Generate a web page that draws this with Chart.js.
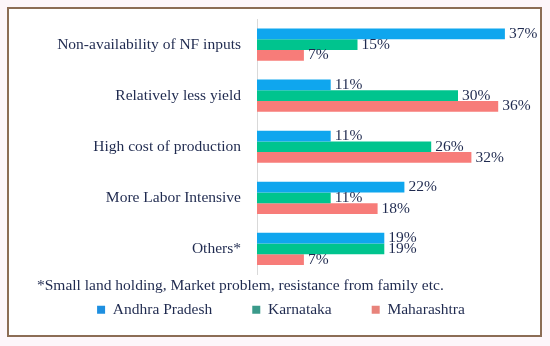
<!DOCTYPE html>
<html lang="en">
<head>
    <meta charset="UTF-8">
    <title>Reasons for not adopting natural farming</title>
    <script src="https://cdn.jsdelivr.net/npm/chart.js"></script>
    <style>
    body, html {
        margin: 0;
        padding: 0;
        width: 550px;
        height: 346px;
        background-color: #fdf6fa;
        overflow: hidden;
    }
    #frame {
        position: absolute;
        left: 7px;
        top: 7px;
        width: 531px;
        height: 326px;
        border: 2px solid #8c6d55;
        background: white;
    }
    #chart-container {
        position: absolute;
        left: 0;
        top: 0;
        width: 550px;
        height: 346px;
    }
    </style>
</head>
<body>
<div id="frame"></div>
<div id="chart-container">
    <canvas id="reasons"></canvas>
</div>
<script>
    const reasons = ['Non-availability of NF inputs', 'Relatively less yield', 'High cost of production', 'More Labor Intensive', 'Others*'];
    const states = ['Andhra Pradesh', 'Karnataka', 'Maharashtra'];
    const andhraPradesh = [37, 11, 11, 22, 19];
    const karnataka = [15, 30, 26, 11, 19];
    const maharashtra = [7, 36, 32, 18, 7];
    const colors = ['#0fa6ee', '#00c48e', '#f77c79'];
    const legendColors = ['#1e8fe0', '#3a9a8a', '#e8837b'];
    const footnote = '*Small land holding, Market problem, resistance from family etc.';

    const textColor = '#1f2a4f';
    const serif = "'Liberation Serif', 'DejaVu Serif', serif";
    const fontSize = 15.5;

    // writes the percentage right after each bar
    const valueLabels = {
        id: 'valueLabels',
        afterDatasetsDraw(chart) {
            const ctx = chart.ctx;
            ctx.save();
            ctx.font = fontSize + 'px ' + serif;
            ctx.fillStyle = textColor;
            ctx.textBaseline = 'middle';
            ctx.textAlign = 'left';
            chart.data.datasets.forEach((ds, i) => {
                const meta = chart.getDatasetMeta(i);
                meta.data.forEach((bar, j) => {
                    ctx.fillText(ds.data[j] + '%', bar.x + 4, bar.y);
                });
            });
            ctx.restore();
        }
    };

    const ctx = document.getElementById('reasons').getContext('2d');
    new Chart(ctx, {
        type: 'bar',
        data: {
            labels: reasons,
            datasets: [
                { label: states[0], data: andhraPradesh, backgroundColor: colors[0] },
                { label: states[1], data: karnataka, backgroundColor: colors[1] },
                { label: states[2], data: maharashtra, backgroundColor: colors[2] }
            ]
        },
        options: {
            indexAxis: 'y',
            responsive: true,
            maintainAspectRatio: false,
            animation: false,
            datasets: {
                bar: { barPercentage: 1, categoryPercentage: 0.63 }
            },
            layout: {
                padding: { left: 37, right: 25, top: 19, bottom: 6 }
            },
            plugins: {
                tooltip: { enabled: false },
                title: {
                    display: true,
                    text: footnote,
                    position: 'bottom',
                    align: 'start',
                    weight: 500,
                    color: textColor,
                    font: { family: serif, size: fontSize, weight: 'normal' },
                    // negative bottom padding pulls the legend up under the note
                    padding: { top: 2, bottom: -33 }
                },
                legend: {
                    position: 'bottom',
                    weight: 1000,
                    labels: {
                        color: textColor,
                        font: { family: serif, size: fontSize },
                        boxWidth: 8,
                        boxHeight: 8,
                        padding: 40,
                        generateLabels: (chart) => states.map((s, i) => ({
                            text: s,
                            fillStyle: legendColors[i],
                            strokeStyle: legendColors[i],
                            lineWidth: 0,
                            fontColor: textColor,
                            datasetIndex: i
                        }))
                    }
                }
            },
            scales: {
                x: {
                    display: false,
                    min: 0,
                    max: 40
                },
                y: {
                    grid: { display: false },
                    border: { display: true, color: '#d9d9d9', width: 1 },
                    ticks: {
                        color: textColor,
                        font: { family: serif, size: fontSize },
                        padding: 8
                    },
                    afterFit: (scale) => { scale.width = 220; }
                }
            }
        },
        plugins: [valueLabels]
    });
</script>
</body>
</html>
